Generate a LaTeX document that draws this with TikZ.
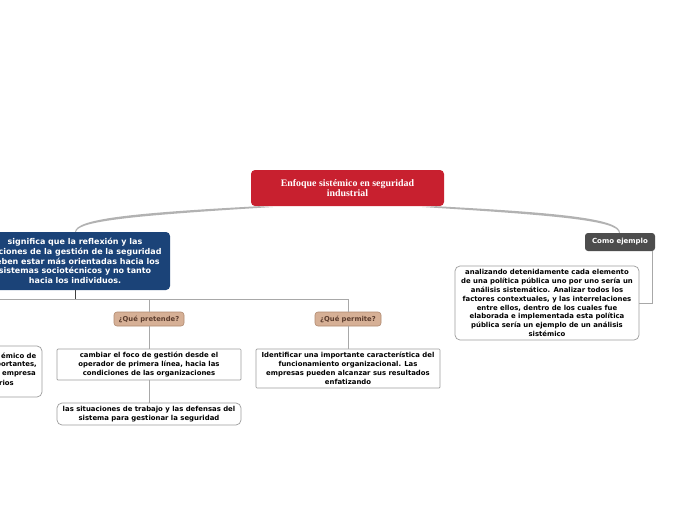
\documentclass[tikz,border=0pt]{standalone}
\usepackage{fontspec}
\setmainfont{DejaVu Sans}
\newfontfamily\titlefont{Liberation Serif}
\usetikzlibrary{calc}
\definecolor{mainred}{HTML}{C8202F}
\definecolor{blueN}{HTML}{1B4378}
\definecolor{grayN}{HTML}{4D4D4D}
\definecolor{tanF}{HTML}{D6B096}
\definecolor{tanD}{HTML}{B08A70}
\definecolor{tanT}{HTML}{5C3D2E}
\definecolor{lineG}{HTML}{A8A8A8}
\definecolor{boxB}{HTML}{9C9C9C}
\tikzset{
  mainbox/.style={fill=mainred, rounded corners=4pt, minimum width=193pt, minimum height=36pt, inner sep=0pt, align=center, text=white, font=\titlefont\bfseries\fontsize{9.9}{10.5}\selectfont},
  bluebox/.style={fill=blueN, rounded corners=4pt, minimum width=190pt, minimum height=58pt, inner sep=0pt, align=center, text=white, font=\bfseries\fontsize{8}{9.6}\selectfont},
  graybox/.style={fill=grayN, rounded corners=3pt, minimum width=70pt, minimum height=18pt, inner sep=0pt, align=center, text=white, font=\bfseries\fontsize{7}{8}\selectfont},
  tanbox/.style={fill=tanF, draw=tanD, line width=0.6pt, rounded corners=3pt, minimum height=14pt, inner sep=0pt, align=center, text=tanT, font=\bfseries\fontsize{6.8}{7}\selectfont},
  txtbox/.style={fill=white, draw=boxB, line width=0.7pt, minimum width=184pt, inner sep=0pt, align=center, text=black, font=\bfseries\fontsize{6.9}{8.9}\selectfont},
  conn/.style={draw=lineG, line width=0.8pt},
  taper/.style={fill=gray!60}
}
\begin{document}
\begin{tikzpicture}[x=1pt,y=-1pt]
\useasboundingbox[fill=white] (0,0) rectangle (696,520);

% nodes
\node[mainbox] (main) at (347.5,188) {Enfoque sistémico en seguridad\\industrial};
\node[bluebox] (blue) at (75,261) {significa que la reflexión y las\\acciones de la gestión de la seguridad\\deben estar más orientadas hacia los\\sistemas sociotécnicos y no tanto\\hacia los individuos.};
\node[graybox] (como) at (620,242) {Como ejemplo};
\node[txtbox, rounded corners=5pt, minimum height=74pt] (ejem) at (547,303) {analizando detenidamente cada elemento\\de una política pública uno por uno sería un\\análisis sistemático. Analizar todos los\\factores contextuales, y las interrelaciones\\entre ellos, dentro de los cuales fue\\elaborada e implementada esta política\\pública sería un ejemplo de un análisis\\sistémico};

\node[tanbox, minimum width=70pt] (pret) at (149,319) {¿Qué pretende?};
\node[tanbox, minimum width=66pt] (perm) at (348,319) {¿Qué permite?};

\node[txtbox, rounded corners=1pt, minimum height=31pt] (camb) at (149,364.5) {cambiar el foco de gestión desde el\\operador de primera línea, hacia las\\condiciones de las organizaciones};
\node[txtbox, rounded corners=5pt, minimum height=22pt] (situ) at (149,414) {las situaciones de trabajo y las defensas del\\sistema para gestionar la seguridad};
\node[txtbox, rounded corners=1pt, minimum height=39pt] (iden) at (348,368.5) {Identificar una importante característica del\\funcionamiento organizacional. Las\\empresas pueden alcanzar sus resultados\\enfatizando};

% partially visible left box
\node[txtbox, rounded corners=5pt, minimum height=51pt] (left) at (-50,371.5) {};
\begin{scope}[font=\bfseries\fontsize{6.9}{8.9}\selectfont, inner sep=0pt]
\node[anchor=east] (l1) at (36.5,356) {émico de};
\node[anchor=east] (l2) at (37,365) {portantes,};
\node[anchor=east] (l3) at (36,374) {empresa};
\node[anchor=east] (l4) at (14,383) {rios};
\end{scope}

% tapered curves from main
\fill[taper] ($(main.south west)+(8,0)$) .. controls (130,213) and (76,219) .. (blue.north)
  -- ($(blue.north)+(1,0)$) .. controls (78,221) and (135,215.5) .. ($(main.south west)+(22,0.8)$) -- cycle;
\fill[taper] ($(main.south east)+(-8,0)$) .. controls (565,213) and (620,219) .. (como.north)
  -- ($(como.north)+(-1,0)$) .. controls (618,221) and (560,215.5) .. ($(main.south east)+(-22,0.8)$) -- cycle;

% connectors
\coordinate (offL) at (0,299.5);
\coordinate (bj) at (75,299.5);
\draw[line width=0.8pt, draw=black!75] (blue.south) -- (bj);
\draw[conn] (offL) -- (bj) -| (pret.north);
\draw[conn] (bj) -| (perm.north);
\draw[conn] (pret.south) -- (camb.north);
\draw[conn] (camb.south) -- (situ.north);
\draw[conn] (perm.south) -- (iden.north);
\draw[conn] ($(como.south east)+(-3,0)$) |- (ejem.east);
\end{tikzpicture}
\end{document}
